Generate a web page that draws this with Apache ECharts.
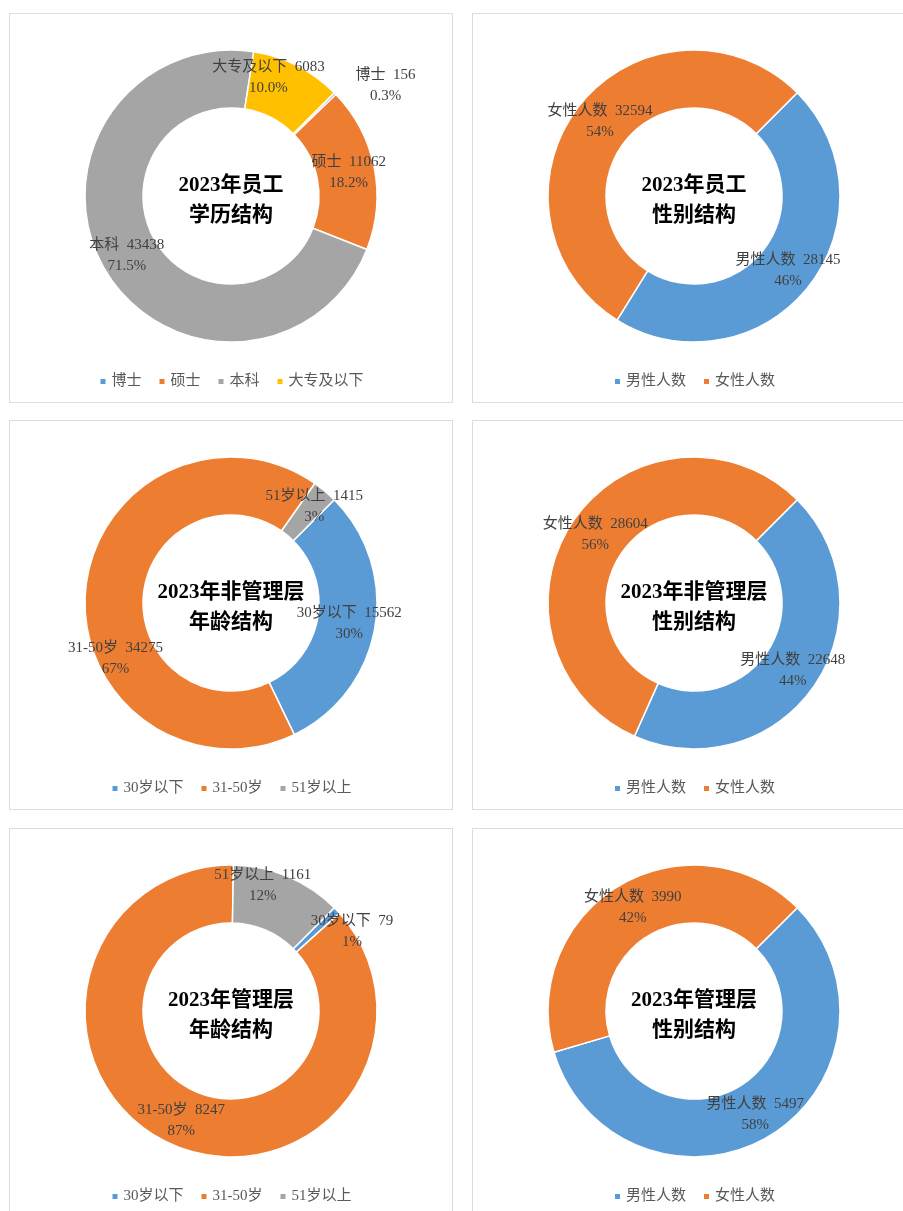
<!DOCTYPE html>
<html>
<head>
<meta charset="utf-8">
<script src="https://cdn.jsdelivr.net/npm/echarts@6/dist/echarts.min.js"></script>
<style>
  html, body { margin: 0; padding: 0; background: #fff; }
  body { width: 903px; height: 1211px; position: relative; overflow: hidden; }
  .panel { position: absolute; width: 444px; height: 390px; border: 1.5px solid #dcdcdc; box-sizing: border-box; background: #fff; }
</style>
</head>
<body>
<div class="panel" id="edu" style="left:9px;top:13px;"></div>
<div class="panel" id="allGender" style="left:472px;top:13px;"></div>
<div class="panel" id="nonMgmtAge" style="left:9px;top:420px;"></div>
<div class="panel" id="nonMgmtGender" style="left:472px;top:420px;"></div>
<div class="panel" id="mgmtAge" style="left:9px;top:828px;"></div>
<div class="panel" id="mgmtGender" style="left:472px;top:828px;"></div>
<script>
// data
const eduNames = ['博士', '硕士', '本科', '大专及以下'];
const eduValues = [156, 11062, 43438, 6083];

const genderNames = ['男性人数', '女性人数'];
const allGenderValues = [28145, 32594];
const nonMgmtGenderValues = [22648, 28604];
const mgmtGenderValues = [5497, 3990];

const ageNames = ['30岁以下', '31-50岁', '51岁以上'];
const nonMgmtAgeValues = [15562, 34275, 1415];
const mgmtAgeValues = [79, 8247, 1161];

const blue = '#5B9BD5', orange = '#ED7D31', gray = '#A5A5A5', yellow = '#FFC000';
const labelFont = "'Liberation Serif', 'Noto Sans CJK SC', serif";

// one entry per panel; shift = label nudges (px) where Excel moved the label
const panels = {
  edu: { title: '2023年员工\n学历结构', names: eduNames, values: eduValues, colors: [blue, orange, gray, yellow], digits: 1,
         shift: {0: [69, -26], 3: [-17, -11]} },
  allGender: { title: '2023年员工\n性别结构', names: genderNames, values: allGenderValues, colors: [blue, orange], digits: 0, shift: {} },
  nonMgmtAge: { title: '2023年非管理层\n年龄结构', names: ageNames, values: nonMgmtAgeValues, colors: [blue, orange, gray], digits: 0,
         shift: {1: [4, 65], 2: [6, -5]} },
  nonMgmtGender: { title: '2023年非管理层\n性别结构', names: genderNames, values: nonMgmtGenderValues, colors: [blue, orange], digits: 0, shift: {} },
  mgmtAge: { title: '2023年管理层\n年龄结构', names: ageNames, values: mgmtAgeValues, colors: [blue, orange, gray], digits: 0,
         shift: {0: [34, 3], 2: [-15, -15]} },
  mgmtGender: { title: '2023年管理层\n性别结构', names: genderNames, values: mgmtGenderValues, colors: [blue, orange], digits: 0, shift: {} }
};

function buildOption(p) {
  const total = p.values.reduce((a, b) => a + b, 0);
  return {
    animation: false,
    color: p.colors,
    title: {
      text: p.title,
      left: 'center',
      top: 152,
      textStyle: { fontFamily: labelFont, fontSize: 21, fontWeight: 'bold', color: '#000', lineHeight: 30 }
    },
    legend: {
      bottom: 8,
      left: 'center',
      icon: 'rect',
      itemWidth: 7,
      itemHeight: 7,
      itemGap: 16,
      textStyle: { fontFamily: labelFont, fontSize: 15, color: '#595959' },
      data: p.names
    },
    series: [{
      type: 'pie',
      center: ['50%', 182],
      radius: [88, 146],
      startAngle: 45,
      clockwise: true,
      itemStyle: { borderColor: '#fff', borderWidth: 1.5 },
      label: {
        show: true,
        position: 'inside',
        color: '#404040',
        fontFamily: labelFont,
        fontSize: 15,
        lineHeight: 21,
        formatter: (d) => d.name + '  ' + d.value + '\n' + (d.value / total * 100).toFixed(p.digits) + '%'
      },
      labelLine: { show: false },
      labelLayout: (params) => {
        const s = p.shift[params.dataIndex];
        return s ? { dx: s[0], dy: s[1] } : {};
      },
      data: p.names.map((n, i) => ({ name: n, value: p.values[i] }))
    }]
  };
}

for (let id in panels) {
  const chart = echarts.init(document.getElementById(id));
  chart.setOption(buildOption(panels[id]));
}
</script>
</body>
</html>
